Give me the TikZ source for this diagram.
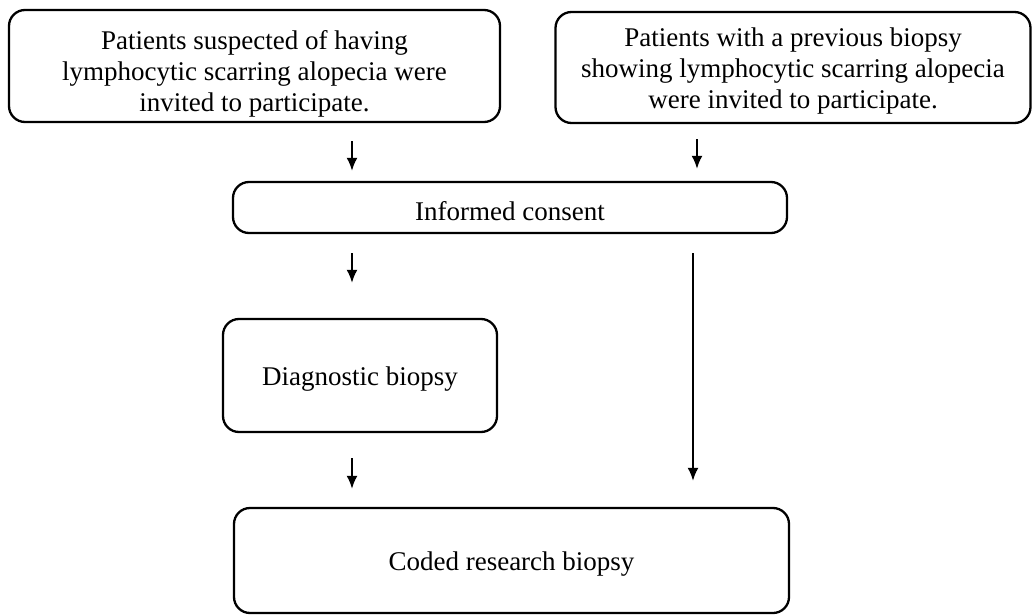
\documentclass[tikz,border=0pt]{standalone}
\usepackage{fontspec}
\setmainfont{Liberation Serif}
\usepackage{tikz}
\tikzstyle{stage} = [draw, line width=2.3pt, rounded corners=16pt,
    inner sep=0pt]
\tikzstyle{words} = [align=center, font=\fontsize{27}{31}\selectfont]
\usetikzlibrary{arrows.meta}
\tikzset{>={Latex[length=13pt,width=11pt]}}
\tikzstyle{flow} = [->, line width=2pt]

\begin{document}
\begin{tikzpicture}[x=1pt,y=-1pt]
\useasboundingbox (0,0) rectangle (1033,615);
    %boxes
    \node[stage, minimum width=491pt, minimum height=112pt] (sus) at (254.5,66) {};
    \node[stage, minimum width=475pt, minimum height=111pt] (prev) at (793,67.5) {};
    \node[stage, minimum width=554pt, minimum height=51pt] (consent) at (510,207.5) {};
    \node[stage, minimum width=274pt, minimum height=113pt] (diag) at (360,375.5) {};
    \node[stage, minimum width=555pt, minimum height=105pt] (coded) at (511.5,560.5) {};
    %texts
    \node[words] at ([yshift=-8pt]sus.center) {Patients suspected of having\\lymphocytic scarring alopecia were\\invited to participate.};
    \node[words] at ([yshift=-4pt]prev.center) {Patients with a previous biopsy\\showing lymphocytic scarring alopecia\\were invited to participate.};
    \node[words] at ([yshift=-4pt]consent.center) {Informed consent};
    \node[words] at ([yshift=-4pt]diag.center) {Diagnostic biopsy};
    \node[words] at ([yshift=-4pt]coded.center) {Coded research biopsy};
    %arrows
    \coordinate (l) at (352,0);
    \coordinate (r) at (697,0);
    \coordinate (rr) at (693,0);
    \draw[flow, shorten <=18pt, shorten >=10pt] (sus.south -| l) -- (consent.north -| l);
    \draw[flow, shorten <=15pt, shorten >=12pt] (prev.south -| r) -- (consent.north -| r);
    \draw[flow, shorten <=19pt, shorten >=35pt] (consent.south -| l) -- (diag.north -| l);
    \draw[flow, shorten <=25pt, shorten >=18pt] (diag.south -| l) -- (coded.north -| l);
    \draw[flow, shorten <=19pt, shorten >=26pt] (consent.south -| rr) -- (coded.north -| rr);
\end{tikzpicture}
\end{document}
